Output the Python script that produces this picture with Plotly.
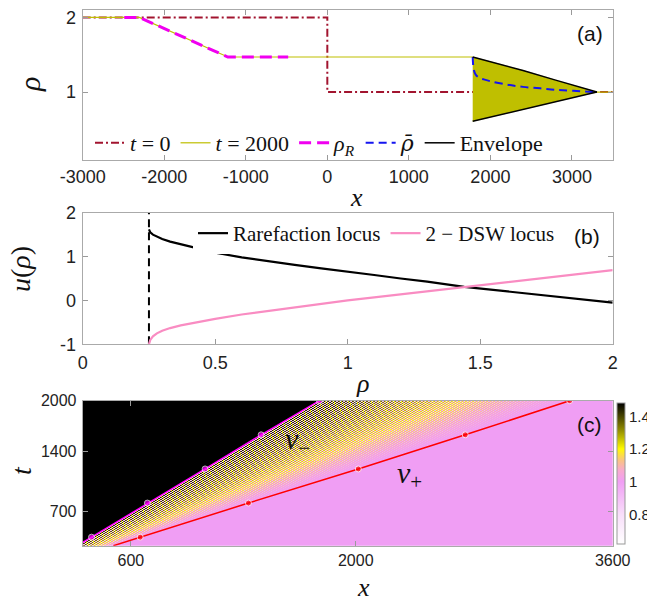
import numpy as np
import plotly.graph_objects as go

W, H = 647, 597
def px(x): return x / W
def py(y): return 1 - y / H

# ---------------- panel (a) data ----------------
x_t0 = [-3000, 0, 0, 3500]
rho_t0 = [2, 2, 1, 1]
x_t2000 = [-3000, -2305, -1220, 1783, None, 3306, 3500]
rho_t2000 = [2, 2, 1.47, 1.47, None, 1.0, 1.0]
x_rhoR = [-2490, -2305, -1220, -480]
rho_R = [2, 2, 1.47, 1.47]
x_env = [1783, 2000, 2400, 2800, 3100, 3306]
env_upper = [1.47, 1.41, 1.29, 1.16, 1.07, 1.0]
env_lower = [0.61, 0.665, 0.77, 0.87, 0.95, 1.0]
x_mean = [1783, 1796, 1817, 1850, 1918, 2000, 2204, 2400, 2612, 2800, 3020, 3306]
rho_mean = [1.47, 1.30, 1.24, 1.20, 1.17, 1.145, 1.10, 1.07, 1.05, 1.03, 1.017, 1.0]

# ---------------- panel (b) data ----------------
rho_b = [0.25, 0.255, 0.265, 0.28, 0.30, 0.33, 0.37, 0.42, 0.5, 0.6, 0.7, 0.8,
         0.9, 1.0, 1.1, 1.2, 1.3, 1.44, 1.5, 1.6, 1.7, 1.8, 1.9, 2.0]
u_raref = [1.62, 1.55, 1.50, 1.45, 1.40, 1.34, 1.28, 1.22, 1.09, 0.98, 0.89, 0.81,
           0.73, 0.66, 0.58, 0.50, 0.43, 0.31, 0.27, 0.21, 0.14, 0.08, 0.01, -0.05]
u_dsw = [-1.0, -0.9, -0.82, -0.75, -0.69, -0.63, -0.57, -0.51, -0.42, -0.32, -0.24, -0.15,
         -0.07, 0.0, 0.07, 0.14, 0.21, 0.31, 0.35, 0.42, 0.49, 0.56, 0.62, 0.69]
rho_vert = [0.25, 0.25]
u_vert = [-1, 2]

# ---------------- panel (c) data ----------------
t_marks = [300, 400, 800, 1200, 1600, 2000]
x_vminus = [266, 355, 703, 1062, 1411, 1774]
x_vplus = [491, 658, 1332, 2016, 2682, 3332]
mark_sizes = [0, 6, 6, 6, 6, 6]
v_minus, v_plus = 0.887, 1.671
rho_plateau, rho_right = 1.48, 1.0
wavelength, dip_power = 22.0, 2.0

# colour map of panel (c)
cmin, cmax = 0.62, 1.48
cmap_vals = [0.62, 0.80, 1.00, 1.07, 1.13, 1.20, 1.32, 1.48]
cmap_cols = ["rgb(255,255,255)", "rgb(248,222,250)", "rgb(240,158,244)", "rgb(248,170,205)",
             "rgb(250,195,130)", "rgb(255,250,0)", "rgb(140,135,0)", "rgb(0,0,0)"]
colorscale = [[(v - cmin) / (cmax - cmin), c] for v, c in zip(cmap_vals, cmap_cols)]

# density field rho(x,t): self-similar in x/t, oscillating between the envelopes of (a)
xg = np.linspace(300, 3600, 531)
tg = np.linspace(300, 2000, 146)
X, T = np.meshgrid(xg, tg)
P = (X / T - v_minus) / (v_plus - v_minus)
Pc = np.clip(P, 0, 1)
qe = (np.array(x_env) - x_env[0]) / (x_env[-1] - x_env[0])
U = np.interp(Pc, qe, env_upper)
L = np.interp(Pc, qe, env_lower)
theta = 2 * np.pi * (X - v_minus * T) / wavelength
wave = 1 - ((1 - np.cos(theta)) / 2) ** dip_power
Z = L + (U - L) * wave
Z = np.where(P < 0, rho_plateau, np.where(P > 1, rho_right, Z))
Z = np.round(Z, 3)

SERIF = "Liberation Serif, DejaVu Serif, serif"
SANS = "Liberation Sans, Arial, sans-serif"
RED = "#A2142F"; OLIVE = "#BFBF00"; MAG = "#F000F0"; BLUE = "#1515F0"; PINK = "#F98CC2"

fig = go.Figure()
# (a)
fig.add_trace(go.Scatter(x=x_t0, y=rho_t0, mode="lines", name="<i>t</i> = 0",
                         line=dict(color=RED, width=2, dash="8px,3px,2px,3px"),
                         xaxis="x", yaxis="y", legend="legend"))
fig.add_trace(go.Scatter(x=x_t2000, y=rho_t2000, mode="lines", name="<i>t</i> = 2000",
                         line=dict(color=OLIVE, width=1.2), connectgaps=False,
                         xaxis="x", yaxis="y", legend="legend"))
fig.add_trace(go.Scatter(x=x_env + x_env[::-1], y=env_upper + env_lower[::-1], mode="lines",
                         fill="toself", fillcolor=OLIVE, line=dict(color=OLIVE, width=0.5),
                         showlegend=False, hoverinfo="skip", xaxis="x", yaxis="y"))
fig.add_trace(go.Scatter(x=x_rhoR, y=rho_R, mode="lines", name="<i>ρ</i><sub><i>R</i></sub>",
                         line=dict(color=MAG, width=3, dash="12px,6px"),
                         xaxis="x", yaxis="y", legend="legend"))
fig.add_trace(go.Scatter(x=x_mean, y=rho_mean, mode="lines",
                         name="<span style='font-family:DejaVu Serif'><i>ρ̄</i></span>",
                         line=dict(color=BLUE, width=2, dash="8px,5px"), line_shape="spline",
                         xaxis="x", yaxis="y", legend="legend"))
fig.add_trace(go.Scatter(x=x_env + [None] + x_env, y=env_upper + [None] + env_lower,
                         mode="lines", name="Envelope", line=dict(color="black", width=1.5),
                         xaxis="x", yaxis="y", legend="legend"))
# (b)
fig.add_trace(go.Scatter(x=rho_vert, y=u_vert, mode="lines", showlegend=False,
                         line=dict(color="black", width=2, dash="8px,5px"),
                         xaxis="x2", yaxis="y2"))
fig.add_trace(go.Scatter(x=rho_b, y=u_raref, mode="lines", name="Rarefaction locus",
                         line=dict(color="black", width=2.2),
                         xaxis="x2", yaxis="y2", legend="legend2"))
fig.add_trace(go.Scatter(x=rho_b, y=u_dsw, mode="lines", name="2 − DSW locus",
                         line=dict(color=PINK, width=2.2),
                         xaxis="x2", yaxis="y2", legend="legend2"))
# (c)
fig.add_trace(go.Heatmap(x=xg, y=tg, z=Z, colorscale=colorscale, zmin=cmin, zmax=cmax,
                         xaxis="x3", yaxis="y3", hoverinfo="skip",
                         colorbar=dict(x=px(617), xanchor="left", xref="paper",
                                       y=py(473.7), yanchor="middle", yref="paper",
                                       len=140.7 / H, lenmode="fraction",
                                       thickness=8, thicknessmode="pixels",
                                       outlinecolor="#999999", outlinewidth=1,
                                       tickvals=[0.8, 1, 1.2, 1.4], ticktext=["0.8", "1", "1.2", "1.4"],
                                       ticks="", xpad=0, ypad=0,
                                       tickfont=dict(family=SANS, size=15, color="#222"))))
fig.add_trace(go.Scatter(x=x_vminus, y=t_marks, mode="lines+markers", showlegend=False,
                         line=dict(color="#FF00FF", width=1.5),
                         marker=dict(color="#FF00FF", size=mark_sizes),
                         xaxis="x3", yaxis="y3"))
fig.add_trace(go.Scatter(x=x_vplus, y=t_marks, mode="lines+markers", showlegend=False,
                         line=dict(color="#FF0000", width=1.5),
                         marker=dict(color="#FF0000", size=mark_sizes),
                         xaxis="x3", yaxis="y3"))

xd = [px(82.7), px(612.7)]
axcommon = dict(showline=True, mirror="ticks", ticks="inside", ticklen=5, showgrid=False,
                zeroline=False, tickcolor="#9a9a9a", linecolor="#aaaaaa", linewidth=1)
tf18 = dict(family=SANS, size=18, color="#222")
tf16 = dict(family=SANS, size=16, color="#222")

fig.update_layout(
    width=W, height=H, margin=dict(l=0, r=0, t=0, b=0, autoexpand=False),
    paper_bgcolor="white", plot_bgcolor="white",
    xaxis=dict(domain=xd, range=[-3000, 3500], anchor="y",
               tickvals=[-3000, -2000, -1000, 0, 1000, 2000, 3000],
               ticktext=["-3000", "-2000", "-1000", "0", "1000", "2000", "3000"],
               tickfont=tf18, ticklabelstandoff=0, **axcommon),
    yaxis=dict(domain=[py(160), py(10)], range=[0.09, 2.1], anchor="x",
               tickvals=[1, 2], ticktext=["1", "2"], tickfont=tf18, ticklabelstandoff=2, **axcommon),
    xaxis2=dict(domain=xd, range=[0, 2], anchor="y2",
                tickvals=[0, 0.5, 1, 1.5, 2], ticktext=["0", "0.5", "1", "1.5", "2"],
                tickfont=tf18, ticklabelstandoff=2, **axcommon),
    yaxis2=dict(domain=[py(344.3), py(212.7)], range=[-1, 2], anchor="x2",
                tickvals=[-1, 0, 1, 2], ticktext=["-1", "0", "1", "2"], tickfont=tf18,
                ticklabelstandoff=2, **axcommon),
    xaxis3=dict(domain=xd, range=[300, 3600], anchor="y3",
                tickvals=[600, 2000, 3600], ticktext=["600", "2000", "3600"],
                tickfont=tf16, ticklabelstandoff=0, **axcommon),
    yaxis3=dict(domain=[py(545.7), py(400.7)], range=[300, 2000], anchor="x3",
                tickvals=[700, 1400, 2000], ticktext=["700", "1400", "2000"], tickfont=tf16,
                ticklabelstandoff=2, **axcommon),
    legend=dict(orientation="h", x=px(90), xanchor="left", y=py(122), yanchor="top",
                bgcolor="rgba(0,0,0,0)", borderwidth=0, itemwidth=30,
                font=dict(family=SERIF, size=22, color="#111")),
    legend2=dict(orientation="h", x=px(560), xanchor="right", y=py(213), yanchor="top",
                 bgcolor="white", borderwidth=0, itemwidth=30,
                 font=dict(family=SERIF, size=21, color="#111")),
)

def ann(x, y, text, size, family=SERIF, angle=0):
    fig.add_annotation(x=px(x), y=py(y), xref="paper", yref="paper", text=text,
                       showarrow=False, textangle=angle, xanchor="center", yanchor="middle",
                       font=dict(family=family, size=size, color="#111"))

ann(30, 85, "<i>ρ</i>", 30, angle=-90)
ann(356, 197, "<i>x</i>", 26)
ann(20, 269, "<i>u</i>(<i>ρ</i>)", 28, angle=-90)
ann(362, 383, "<i>ρ</i>", 26)
ann(21, 471, "<i>t</i>", 28, angle=-90)
ann(364, 587, "<i>x</i>", 26)
ann(590, 34, "(a)", 21, family=SANS)
ann(587, 236, "(b)", 21, family=SANS)
ann(589, 424, "(c)", 21, family=SANS)
ann(297, 441, "<i>v</i><sub>−</sub>", 30)
ann(409, 475, "<i>v</i><sub>+</sub>", 30)

fig.write_html("out.html", config={"displayModeBar": False},
               post_script="document.body.style.margin='0';document.body.style.overflow='hidden';")
